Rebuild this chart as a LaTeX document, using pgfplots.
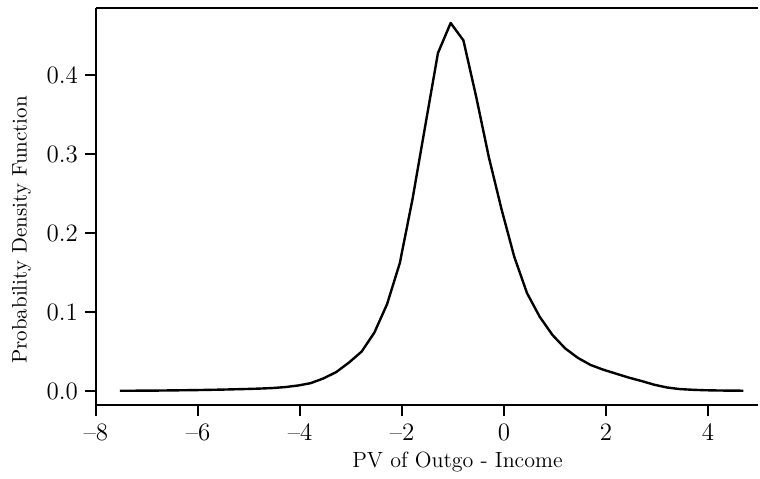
\documentclass[border=0pt]{standalone}
\usepackage{pgfplots}
\pgfplotsset{compat=1.18}
\usepackage{fontspec}

\pgfplotstableread{
x y
-7.530 0.0003
-7.281 0.0004
-7.031 0.0005
-6.782 0.0006
-6.532 0.0008
-6.283 0.0010
-6.034 0.0012
-5.784 0.0015
-5.535 0.0018
-5.285 0.0022
-5.036 0.0026
-4.787 0.0031
-4.537 0.0038
-4.288 0.0050
-4.038 0.0070
-3.789 0.0100
-3.540 0.0160
-3.290 0.0240
-3.041 0.0360
-2.791 0.0500
-2.542 0.0740
-2.293 0.1100
-2.043 0.1620
-1.794 0.2430
-1.544 0.3360
-1.295 0.4280
-1.046 0.4660
-0.796 0.4440
-0.547 0.3730
-0.297 0.2960
-0.048 0.2300
0.201 0.1700
0.451 0.1240
0.700 0.0940
0.950 0.0710
1.199 0.0540
1.448 0.0420
1.698 0.0330
1.947 0.0270
2.197 0.0220
2.446 0.0170
2.695 0.0127
2.945 0.0080
3.194 0.0045
3.444 0.0025
3.693 0.0016
3.942 0.0010
4.192 0.0007
4.441 0.0005
4.691 0.0004
}\pdfdata

\begin{document}
\begin{tikzpicture}
\begin{axis}[
  scale only axis,
  width=331pt, height=198.5pt,
  xmin=-8, xmax=4.98,
  ymin=-0.0177, ymax=0.485,
  axis x line*=bottom,
  axis y line*=left,
  axis line style={line width=1.3pt},
  tick style={line width=1.3pt, black},
  tick align=outside,
  major tick length=5.5pt,
  xtick={-8,-6,-4,-2,0,2,4},
  xticklabels={\textendash8,\textendash6,\textendash4,\textendash2,0,2,4},
  ytick={0,0.1,0.2,0.3,0.4},
  yticklabels={0.0,0.1,0.2,0.3,0.4},
  tick label style={font=\fontsize{12.5}{14}\selectfont},
  xticklabel style={yshift=-0.5pt},
  xlabel={PV of Outgo - Income},
  ylabel={Probability Density Function},
  xlabel style={font=\fontsize{11}{13}\selectfont, at={(axis description cs:0.546,-0.1436)}, anchor=center},
  ylabel style={font=\fontsize{10.5}{12}\selectfont, at={(axis description cs:-0.1125,0.441)}, anchor=center},
  clip=false,
]
\addplot[black, line width=1.2pt, line join=round] table[x=x,y=y] {\pdfdata};
\draw[line width=1.3pt] (rel axis cs:0,1) -- (rel axis cs:1,1);
\end{axis}
\path (current axis.north east) ++(1pt,4pt);
\path (current axis.south west) ++(-48pt,-34pt);
\end{tikzpicture}
\end{document}
